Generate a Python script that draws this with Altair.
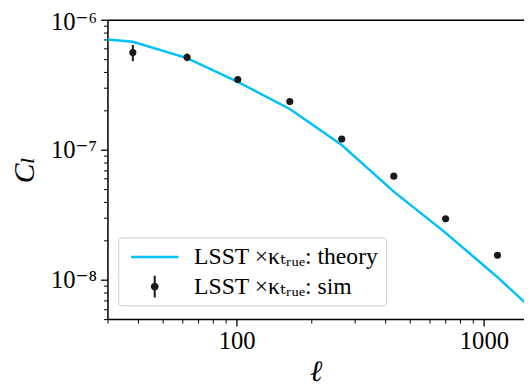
import altair as alt
import pandas as pd

# ---- data ----
ell_theory = [30, 38, 63, 101, 164, 266, 432, 700, 1135, 1840]
cl_theory = [7.05e-7, 6.78e-7, 5.07e-7, 3.33e-7, 2.06e-7, 1.09e-7, 4.77e-8, 2.30e-8, 1.05e-8, 4.5e-9]

ell_sim = [38, 63, 101, 164, 266, 432, 700, 1135]
cl_sim = [5.6e-7, 5.15e-7, 3.47e-7, 2.35e-7, 1.21e-7, 6.28e-8, 2.95e-8, 1.55e-8]
cl_sim_err = [0.8e-7, 0.35e-7, 0.12e-7, 0.07e-7, 0.03e-7, 0.012e-7, 0.005e-7, 0.003e-7]

series_labels = ["LSST ×κₜᵣᵤₑ: theory", "LSST ×κₜᵣᵤₑ: sim"]
series_colors = ["#00bfff", "#1a1a1a"]

x_ticks = [30, 40, 50, 60, 70, 80, 90, 100, 200, 300, 400, 500, 600, 700, 800, 900, 1000]
y_ticks = [5e-9, 6e-9, 7e-9, 8e-9, 9e-9,
           1e-8, 2e-8, 3e-8, 4e-8, 5e-8, 6e-8, 7e-8, 8e-8, 9e-8,
           1e-7, 2e-7, 3e-7, 4e-7, 5e-7, 6e-7, 7e-7, 8e-7, 9e-7, 1e-6]

theory_df = pd.DataFrame({"ell": ell_theory, "cl": cl_theory})
sim_df = pd.DataFrame({
    "ell": ell_sim,
    "cl": cl_sim,
    "lo": [c - e for c, e in zip(cl_sim, cl_sim_err)],
    "hi": [c + e for c, e in zip(cl_sim, cl_sim_err)],
    "series": series_labels[1],
})

FONT = "Liberation Serif, DejaVu Serif"
major = "abs(log(datum.value)/LN10 - round(log(datum.value)/LN10)) < 1e-6"
tick_size = {"condition": {"test": major, "value": 7}, "value": 4}
tick_width = {"condition": {"test": major, "value": 1.3}, "value": 1.0}

x_scale = alt.Scale(type="log", domain=[30, 1453], nice=False)
y_scale = alt.Scale(type="log", domain=[5e-9, 1e-6], nice=False)

x_axis = alt.Axis(
    values=x_ticks,
    labelExpr=f"{major} ? format(datum.value, 'd') : ''",
    tickSize=tick_size, tickWidth=tick_width, tickColor="black",
    domainColor="black", domainWidth=1.5,
    labelFont=FONT, labelFontSize=25, labelColor="black", labelPadding=3,
    labelOverlap=False, labelFlush=False,
    title="ℓ", titleFont=FONT, titleFontSize=30, titleFontWeight="normal",
    titleFontStyle="italic", titleColor="black", titlePadding=3, grid=False,
)
y_label_expr = (
    f"{major} ? (round(log(datum.value)/LN10) == -6 ? '10⁻⁶' : "
    "(round(log(datum.value)/LN10) == -7 ? '10⁻⁷' : "
    "(round(log(datum.value)/LN10) == -8 ? '10⁻⁸' : ''))) : ''"
)
y_axis = alt.Axis(
    values=y_ticks,
    labelExpr=y_label_expr,
    tickSize=tick_size, tickWidth=tick_width, tickColor="black",
    domainColor="black", domainWidth=1.5,
    labelFont=FONT, labelFontSize=25, labelColor="black", labelPadding=4,
    labelOffset={"condition": {"test": "datum.value == 1e-6", "value": 2}, "value": 0},
    labelOverlap=False, labelFlush=False,
    title="Cₗ", titleFont=FONT, titleFontSize=30, titleFontWeight="normal",
    titleFontStyle="italic", titleColor="black", titlePadding=11, grid=False,
)
top_axis = alt.Axis(orient="top", labels=False, ticks=False, title=None,
                    domainColor="black", domainWidth=1.5, grid=False)

line = alt.Chart(theory_df).mark_line(color=series_colors[0], strokeWidth=2.5, clip=True).encode(
    x=alt.X("ell:Q", scale=x_scale, axis=x_axis),
    y=alt.Y("cl:Q", scale=y_scale, axis=y_axis),
)

errbars = alt.Chart(sim_df).mark_rule(color=series_colors[1], strokeWidth=2).encode(
    x=alt.X("ell:Q", scale=x_scale, axis=None),
    y=alt.Y("lo:Q", scale=y_scale, axis=y_axis),
    y2="hi:Q",
)

points = alt.Chart(sim_df).mark_circle(color=series_colors[1], size=52, opacity=1).encode(
    x=alt.X("ell:Q", scale=x_scale, axis=None),
    y=alt.Y("cl:Q", scale=y_scale, axis=y_axis),
)

line_sym = "M-1.85,-0.1H1.85V0.1H-1.85Z"
err_sym = ("M-0.08,-0.85H0.08V0.85H-0.08Z "
           "M0.31,0A0.31,0.31 0 1,1 -0.31,0A0.31,0.31 0 1,1 0.31,0Z")

legend = alt.Legend(
    title=None, orient="none", legendX=11, legendY=221, direction="vertical",
    labelFont=FONT, labelFontSize=24, labelColor="black", labelLimit=400,
    symbolSize=676, symbolOffset=17, labelOffset=27, symbolStrokeWidth=0,
    padding=7, rowPadding=5, strokeColor="#cccccc", fillColor="white",
    cornerRadius=3,
)

legend_layer = alt.Chart(sim_df).mark_point(filled=True, opacity=1).encode(
    x=alt.X("ell:Q", scale=x_scale, axis=top_axis),
    y=alt.Y("cl:Q", scale=y_scale, axis=y_axis),
    color=alt.Color("series:N", scale=alt.Scale(domain=series_labels, range=series_colors), legend=legend),
    shape=alt.Shape("series:N", scale=alt.Scale(domain=series_labels, range=[line_sym, err_sym]), legend=legend),
).transform_filter("false")

chart = alt.layer(line, errbars, points, legend_layer).resolve_axis(x="independent").properties(
    width=423, height=304,
    autosize=alt.AutoSizeParams(type="none"),
    padding={"left": 101, "top": 9, "right": 0, "bottom": 66},
).configure_view(stroke=None).configure(background="white")

chart.save("out.html", embed_options={"renderer": "svg", "actions": False})
